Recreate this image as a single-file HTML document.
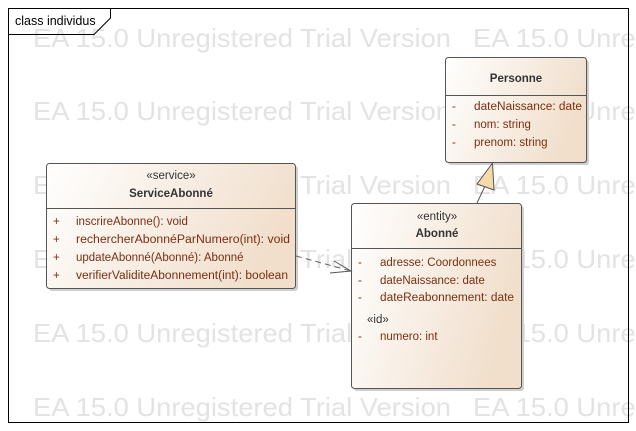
<!DOCTYPE html>
<html><head><meta charset="utf-8"><style>
html,body{margin:0;padding:0;background:#fff;}
svg{display:block;font-family:"Liberation Sans",sans-serif;}
</style></head><body>
<svg width="636" height="431" viewBox="0 0 636 431" xmlns="http://www.w3.org/2000/svg">
<defs>
<linearGradient id="g" x1="0" y1="0" x2="1" y2="0.3">
<stop offset="0" stop-color="#ffffff"/><stop offset="1" stop-color="#f1dfcc"/>
</linearGradient>
</defs>
<rect width="636" height="431" fill="#fff"/>
<g fill="#e3e3e3" font-size="26">
<text x="33" y="47" textLength="418" lengthAdjust="spacingAndGlyphs">EA 15.0 Unregistered Trial Version</text>
<text x="473" y="47" textLength="418" lengthAdjust="spacingAndGlyphs">EA 15.0 Unregistered Trial Version</text>
<text x="33" y="120" textLength="418" lengthAdjust="spacingAndGlyphs">EA 15.0 Unregistered Trial Version</text>
<text x="473" y="120" textLength="418" lengthAdjust="spacingAndGlyphs">EA 15.0 Unregistered Trial Version</text>
<text x="33" y="194" textLength="418" lengthAdjust="spacingAndGlyphs">EA 15.0 Unregistered Trial Version</text>
<text x="473" y="194" textLength="418" lengthAdjust="spacingAndGlyphs">EA 15.0 Unregistered Trial Version</text>
<text x="33" y="268" textLength="418" lengthAdjust="spacingAndGlyphs">EA 15.0 Unregistered Trial Version</text>
<text x="473" y="268" textLength="418" lengthAdjust="spacingAndGlyphs">EA 15.0 Unregistered Trial Version</text>
<text x="33" y="342" textLength="418" lengthAdjust="spacingAndGlyphs">EA 15.0 Unregistered Trial Version</text>
<text x="473" y="342" textLength="418" lengthAdjust="spacingAndGlyphs">EA 15.0 Unregistered Trial Version</text>
<text x="33" y="416" textLength="418" lengthAdjust="spacingAndGlyphs">EA 15.0 Unregistered Trial Version</text>
<text x="473" y="416" textLength="418" lengthAdjust="spacingAndGlyphs">EA 15.0 Unregistered Trial Version</text>
</g>
<!-- frame -->
<rect x="8.5" y="8.5" width="620" height="414" fill="none" stroke="#000"/>
<path d="M8.5 34.5 H94 L110.5 18 V8.5" fill="none" stroke="#000"/>
<text x="15" y="25" font-size="12.5" fill="#000">class individus</text>

<!-- shadows -->
<g fill="#cfcfcf">
<rect x="448" y="60" width="141" height="105" rx="3"/>
<rect x="49" y="166" width="249" height="125" rx="3"/>
<rect x="354" y="206" width="170" height="185" rx="3"/>
</g>

<!-- Personne -->
<rect x="445.5" y="57.5" width="141" height="105" rx="3" fill="url(#g)" stroke="#555"/>
<line x1="445.5" y1="95.5" x2="586.5" y2="95.5" stroke="#555"/>
<text x="516" y="82" font-size="11.5" font-weight="bold" fill="#333" text-anchor="middle">Personne</text>
<g font-size="11.5" fill="#7a2e10">
<text x="452" y="110">-</text><text x="474" y="110" textLength="108" lengthAdjust="spacingAndGlyphs">dateNaissance: date</text>
<text x="452" y="128">-</text><text x="474" y="128">nom: string</text>
<text x="452" y="146">-</text><text x="474" y="146">prenom: string</text>
</g>

<!-- ServiceAbonne -->
<rect x="46.5" y="163.5" width="249" height="125" rx="3" fill="url(#g)" stroke="#555"/>
<line x1="46.5" y1="208.5" x2="295.5" y2="208.5" stroke="#555"/>
<text x="171" y="179" font-size="11.5" fill="#333" text-anchor="middle">«service»</text>
<text x="171" y="197" font-size="11.5" font-weight="bold" fill="#333" text-anchor="middle">ServiceAbonné</text>
<g font-size="11.5" fill="#7a2e10">
<text x="53" y="225">+</text><text x="76" y="225">inscrireAbonne(): void</text>
<text x="53" y="243">+</text><text x="76" y="243" textLength="214" lengthAdjust="spacingAndGlyphs">rechercherAbonnéParNumero(int): void</text>
<text x="53" y="261">+</text><text x="76" y="261">updateAbonné(Abonné): Abonné</text>
<text x="53" y="279">+</text><text x="76" y="279" textLength="212" lengthAdjust="spacingAndGlyphs">verifierValiditeAbonnement(int): boolean</text>
</g>

<!-- Abonne -->
<rect x="351.5" y="203.5" width="170" height="185" rx="3" fill="url(#g)" stroke="#555"/>
<line x1="351.5" y1="248.5" x2="521.5" y2="248.5" stroke="#555"/>
<text x="437" y="220" font-size="11.5" fill="#333" text-anchor="middle">«entity»</text>
<text x="437" y="237" font-size="11.5" font-weight="bold" fill="#333" text-anchor="middle">Abonné</text>
<g font-size="11.5" fill="#7a2e10">
<text x="358" y="266">-</text><text x="380" y="266">adresse: Coordonnees</text>
<text x="358" y="284">-</text><text x="380" y="284">dateNaissance: date</text>
<text x="358" y="301">-</text><text x="380" y="301" textLength="134" lengthAdjust="spacingAndGlyphs">dateReabonnement: date</text>
<text x="367" y="323" fill="#333">«id»</text>
<text x="358" y="340">-</text><text x="380" y="340">numero: int</text>
</g>

<!-- generalization -->
<line x1="477" y1="203" x2="485" y2="186" stroke="#555"/>
<polygon points="492.5,163 477,184 494,190" fill="#f5d9a8" stroke="#555"/>

<!-- dependency -->
<line x1="296" y1="256" x2="351" y2="271" stroke="#666" stroke-dasharray="6,4"/>
<polyline points="334,261 351,271 330,273" fill="none" stroke="#555"/>
</svg>
</body></html>
